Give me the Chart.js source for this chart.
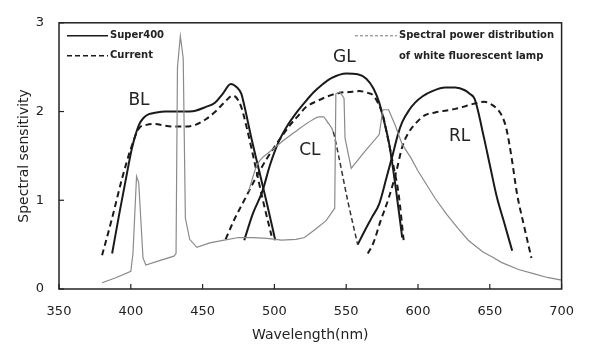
<!DOCTYPE html>
<html>
<head>
<meta charset="utf-8">
<script src="https://cdn.jsdelivr.net/npm/chart.js@4"></script>
<style>
html,body{margin:0;padding:0;background:#fff;}
canvas{display:block;}
</style>
</head>
<body>
<canvas id="c" width="589" height="347"></canvas>
<script>
// ---- data ----
const xTicks = [350, 400, 450, 500, 550, 600, 650, 700];
const yTicks = [0, 1, 2, 3];

const blSuperX = [387, 392, 396.7, 401, 405.7, 409, 412.6, 418, 424, 435, 445, 452, 458.6, 464, 469.6, 474, 477, 479, 484, 490, 495, 500.6];
const blSuperY = [0.40, 0.85, 1.25, 1.6, 1.85, 1.93, 1.97, 1.99, 2.0, 2.0, 2.01, 2.05, 2.1, 2.2, 2.31, 2.27, 2.2, 2.07, 1.7, 1.29, 0.95, 0.55];

const blCurX = [380, 387, 394, 400, 405.7, 411, 417, 424, 431, 438, 445, 452, 459, 465, 471, 476.5, 481, 486, 492, 498];
const blCurY = [0.38, 0.8, 1.25, 1.58, 1.81, 1.85, 1.86, 1.84, 1.83, 1.83, 1.85, 1.91, 2.0, 2.1, 2.18, 2.07, 1.8, 1.44, 1.0, 0.6];

const glSuperX = [479, 485, 491.6, 497, 503, 509, 515, 521, 527.5, 533, 540, 550, 558, 564, 569, 573, 577, 580, 584.5, 589];
const glSuperY = [0.55, 0.85, 1.1, 1.4, 1.66, 1.84, 1.98, 2.1, 2.22, 2.3, 2.38, 2.43, 2.42, 2.37, 2.26, 2.1, 1.85, 1.63, 1.14, 0.58];

const glCurX = [466, 472, 479, 487, 494, 500, 506, 511, 517, 522, 530, 537, 545, 552, 559, 565, 569, 572, 575.5, 579, 583, 586.5, 590];
const glCurY = [0.56, 0.78, 1.0, 1.25, 1.45, 1.6, 1.74, 1.85, 1.96, 2.05, 2.12, 2.17, 2.21, 2.22, 2.23, 2.21, 2.18, 2.1, 1.96, 1.7, 1.38, 1.07, 0.55];

const rlSuperX = [558, 563, 568, 573, 578, 582.5, 586, 589, 594, 598, 603, 610, 619, 626, 632.6, 636, 639.5, 646, 650, 655, 660, 665.6];
const rlSuperY = [0.5, 0.66, 0.81, 0.96, 1.25, 1.52, 1.74, 1.88, 2.02, 2.1, 2.17, 2.23, 2.27, 2.27, 2.24, 2.2, 2.14, 1.7, 1.4, 1.03, 0.75, 0.43];

const rlCurX = [565, 568.7, 574, 579.7, 585, 589, 593, 598, 605, 612, 619, 626, 633, 639.5, 646, 651, 655, 658.5, 661.5, 665, 669, 674, 679];
const rlCurY = [0.4, 0.51, 0.77, 1.03, 1.33, 1.6, 1.75, 1.86, 1.96, 1.99, 2.01, 2.03, 2.06, 2.09, 2.11, 2.08, 2.03, 1.95, 1.81, 1.5, 1.07, 0.7, 0.35];

const clX = [482, 488, 497, 506, 516, 522, 527, 531, 534, 537, 541, 544.6, 551, 558];
const clY = [1.1, 1.4, 1.55, 1.67, 1.79, 1.86, 1.91, 1.94, 1.94, 1.88, 1.77, 1.51, 1.0, 0.5];

const lampX = [380, 390, 400, 401.5, 404, 405.5, 408.5, 410.5, 420, 430, 431.5, 432.5, 434.5, 436.5, 438, 441, 446, 455, 465, 475, 485, 495, 505, 515, 521, 529, 536, 542, 542.8, 545.5, 548.5, 549.2, 553.5, 563, 573, 575.5, 579.5, 584, 589, 595, 600, 607, 612, 620, 628, 635, 645, 653, 658, 670, 681, 690, 700];
const lampY = [0.07, 0.13, 0.2, 0.4, 1.27, 1.2, 0.35, 0.27, 0.32, 0.37, 0.4, 2.5, 2.85, 2.6, 0.8, 0.56, 0.47, 0.52, 0.55, 0.58, 0.58, 0.57, 0.55, 0.56, 0.58, 0.68, 0.77, 0.91, 2.2, 2.22, 2.15, 1.7, 1.36, 1.55, 1.74, 2.02, 2.02, 1.85, 1.63, 1.48, 1.33, 1.15, 1.02, 0.84, 0.68, 0.55, 0.42, 0.35, 0.3, 0.22, 0.17, 0.13, 0.1];

const curveLabels = ['BL', 'GL', 'CL', 'RL'];
const curveLabelX = [405.7, 548.7, 524.7, 629];
const curveLabelY = [2.12, 2.61, 1.56, 1.72];

const legendNames = ['Super400', 'Current'];
const lampLegend = ['Spectral power distribution', 'of white fluorescent lamp'];

// ---- helpers ----
const zip = (xs, ys) => xs.map((x, i) => ({x: x, y: ys[i]}));
const FONT = '"DejaVu Sans", sans-serif';
const INK = '#1a1a1a';

function sens(label, xs, ys, dashed) {
  return {
    label: label,
    data: zip(xs, ys),
    borderColor: INK,
    borderWidth: 2,
    borderDash: dashed ? [6, 4] : [],
    cubicInterpolationMode: 'monotone',
    pointRadius: 0,
    fill: false
  };
}

const datasets = [
  {
    label: 'lamp',
    data: zip(lampX, lampY),
    borderColor: '#8a8a8a',
    borderWidth: 1.2,
    tension: 0,
    pointRadius: 0,
    fill: false
  },
  {
    label: 'CL',
    data: zip(clX, clY),
    borderColor: '#8a8a8a',
    borderWidth: 1.2,
    cubicInterpolationMode: 'monotone',
    pointRadius: 0,
    fill: false,
    segment: {
      borderColor: ctx => ctx.p0.parsed.x >= 541 ? '#333' : undefined,
      borderDash: ctx => ctx.p0.parsed.x >= 541 ? [5, 3] : undefined,
      borderWidth: ctx => ctx.p0.parsed.x >= 541 ? 1.5 : undefined
    }
  },
  sens('BL Super400', blSuperX, blSuperY, false),
  sens('BL Current', blCurX, blCurY, true),
  sens('GL Super400', glSuperX, glSuperY, false),
  sens('GL Current', glCurX, glCurY, true),
  sens('RL Super400', rlSuperX, rlSuperY, false),
  sens('RL Current', rlCurX, rlCurY, true)
];

const decor = {
  id: 'decor',
  afterDatasetsDraw(chart) {
    const ctx = chart.ctx;
    const a = chart.chartArea;
    const xs = chart.scales.x, ys = chart.scales.y;
    ctx.save();
    // frame
    ctx.strokeStyle = '#222';
    ctx.lineWidth = 1.5;
    ctx.setLineDash([]);
    ctx.strokeRect(a.left, a.top, a.right - a.left, a.bottom - a.top);
    // inward ticks
    ctx.lineWidth = 1.2;
    xTicks.forEach(v => {
      const px = xs.getPixelForValue(v);
      ctx.beginPath(); ctx.moveTo(px, a.bottom); ctx.lineTo(px, a.bottom - 5); ctx.stroke();
    });
    yTicks.forEach(v => {
      const py = ys.getPixelForValue(v);
      ctx.beginPath(); ctx.moveTo(a.left, py); ctx.lineTo(a.left + 5, py); ctx.stroke();
    });
    // curve labels
    ctx.fillStyle = '#222';
    ctx.font = '17px ' + FONT;
    ctx.textAlign = 'center';
    ctx.textBaseline = 'middle';
    curveLabels.forEach((t, i) => {
      ctx.fillText(t, xs.getPixelForValue(curveLabelX[i]), ys.getPixelForValue(curveLabelY[i]));
    });
    // legend (left)
    ctx.font = 'bold 10px ' + FONT;
    ctx.textAlign = 'left';
    const lx0 = a.left + 8, lx1 = a.left + 49;
    const rowY = [a.top + 13, a.top + 33];
    legendNames.forEach((t, i) => {
      ctx.strokeStyle = INK;
      ctx.lineWidth = 1.5;
      ctx.setLineDash(i === 0 ? [] : [5, 3]);
      ctx.beginPath(); ctx.moveTo(lx0, rowY[i]); ctx.lineTo(lx1, rowY[i]); ctx.stroke();
      ctx.fillText(t, lx1 + 2, rowY[i]);
    });
    // legend (right)
    const rx0 = a.left + 296, rx1 = a.left + 338;
    ctx.strokeStyle = '#777';
    ctx.lineWidth = 1;
    ctx.setLineDash([3, 2]);
    ctx.beginPath(); ctx.moveTo(rx0, rowY[0]); ctx.lineTo(rx1, rowY[0]); ctx.stroke();
    ctx.fillText(lampLegend[0], rx1 + 2, rowY[0]);
    ctx.fillText(lampLegend[1], rx1 + 2, rowY[1] + 1);
    ctx.restore();
  }
};

new Chart(document.getElementById('c'), {
  type: 'line',
  data: {datasets: datasets},
  plugins: [decor],
  options: {
    responsive: false,
    devicePixelRatio: 1,
    animation: false,
    layout: {padding: {left: 0, right: 21, top: 20, bottom: 0}},
    plugins: {legend: {display: false}, tooltip: {enabled: false}},
    scales: {
      x: {
        type: 'linear',
        min: 350, max: 700,
        afterBuildTicks: s => { s.ticks = xTicks.map(v => ({value: v})); },
        afterFit: s => { s.height = 58; },
        grid: {display: false, drawTicks: false},
        border: {display: false},
        ticks: {color: '#222', font: {family: FONT, size: 13}, padding: 15, maxRotation: 0},
        title: {display: true, text: 'Wavelength(nm)', color: '#222', font: {family: FONT, size: 14}, padding: {top: 0, bottom: 3}}
      },
      y: {
        type: 'linear',
        min: 0, max: 3,
        afterBuildTicks: s => { s.ticks = yTicks.map(v => ({value: v})); },
        afterFit: s => { s.width = 59; },
        grid: {display: false, drawTicks: false},
        border: {display: false},
        ticks: {color: '#222', font: {family: FONT, size: 13}, padding: 15},
        title: {display: true, text: 'Spectral sensitivity', color: '#222', font: {family: FONT, size: 14}, padding: {top: 16, bottom: 0}}
      }
    }
  }
});
</script>
</body>
</html>
